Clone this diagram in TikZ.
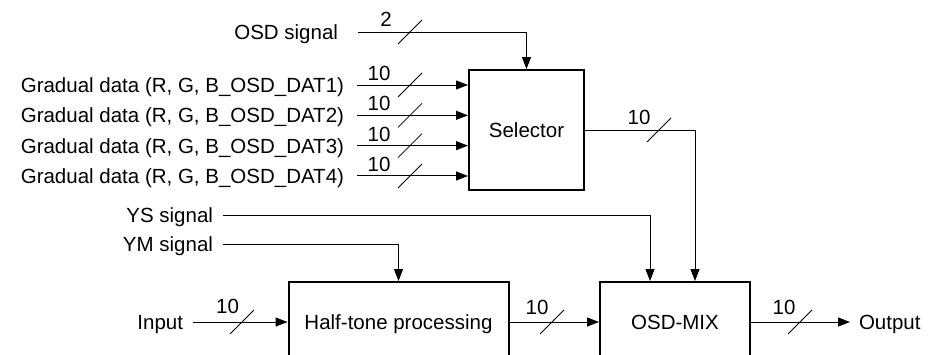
\documentclass[tikz,border=0pt]{standalone}
\usepackage{fontspec}
\setmainfont{Liberation Sans}
\usetikzlibrary{arrows.meta,calc}

\tikzset{
    every node/.style={font=\fontsize{20.5}{24}\selectfont},
    sig/.style={line width=1pt, -{Triangle[length=12pt,width=9pt]}},
    wire/.style={line width=1pt},
    blk/.style={draw, line width=2pt, inner sep=0pt, text height=14.7pt, text depth=0pt},
    lbl/.style={inner sep=0pt, text height=14.7pt, text depth=0pt},
    buslbl/.style={inner sep=0pt, text height=14.7pt, text depth=0pt},
    slashln/.style={line width=0.8pt},
    pics/busmark/.style args={#1/#2/#3}{code={
        \draw[slashln] (-12,12) -- (12,-12);
        \node[buslbl] (-lbl) at (#2,#3) {#1};
    }}
}

\begin{document}
\begin{tikzpicture}[x=1pt, y=-1pt]
    \useasboundingbox (0,0) rectangle (928,354);

    % blocks
    \node[blk, minimum width=115, minimum height=120] (sel) at (526.5,130) {Selector};
    \node[blk, minimum width=220, minimum height=80] (half) at (398.5,322) {Half-tone processing};
    \node[blk, minimum width=150, minimum height=80] (mix) at (675,322) {OSD-MIX};

    % input labels
    \node[lbl, anchor=east, outer xsep=20pt] (osdlbl) at (358,32) {OSD signal};
    \foreach \i in {1,...,4}
        \node[lbl, anchor=east, outer xsep=13pt] (dat\i) at (357,{85+(\i-1)*30.33}) {Gradual data (R, G, B\_OSD\_DAT\i)};
    \node[lbl, anchor=east, outer xsep=10pt] (yslbl) at (223,215) {YS signal};
    \node[lbl, anchor=east, outer xsep=10pt] (ymlbl) at (223,244) {YM signal};
    \node[lbl, anchor=east, outer xsep=10pt] (inlbl) at (193,322) {Input};
    \node[lbl, anchor=west, outer xsep=9pt] (outlbl) at (850,322) {Output};

    % connectors
    \draw[sig] (osdlbl.east) -| (sel.north);
    \foreach \i in {1,...,4}
        \draw[sig] (dat\i.east) -- (dat\i.east -| sel.west);
    \draw[sig] (sel.east) -| ([xshift=20pt]mix.north);
    \draw[sig] (yslbl.east) -| ([xshift=-25pt]mix.north);
    \draw[sig] (ymlbl.east) -| (half.north);
    \draw[sig] (inlbl.east) -- (half.west);
    \draw[sig] (half.east) -- (mix.west);
    \draw[sig] (mix.east) -- (outlbl.west);

    % bus widths
    \pic (bosd) at (410,32) {busmark={2/-24/-13}};
    \foreach \i in {1,...,4}
        \pic (bdat\i) at (410,{85+(\i-1)*30.33}) {busmark={10/-31/-12}};
    \pic (bsel) at (659,130) {busmark={10/-20/-13}};
    \pic (bin) at (242,322) {busmark={10/-14.5/-16}};
    \pic (bhalf) at (552,322) {busmark={10/-15/-15}};
    \pic (bout) at (800,322) {busmark={10/-16/-15}};
\end{tikzpicture}
\end{document}
